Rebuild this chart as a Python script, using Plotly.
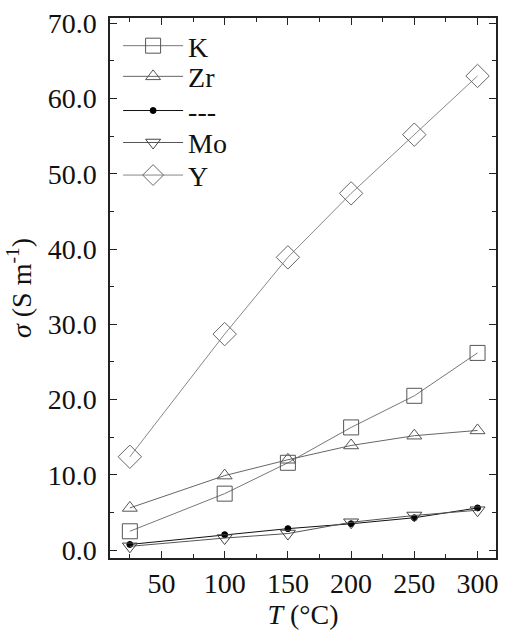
import plotly.graph_objects as go

T = [25, 100, 150, 200, 250, 300]
K = [2.5, 7.5, 11.6, 16.3, 20.5, 26.2]
Zr = [5.6, 9.9, 12.0, 13.9, 15.2, 15.9]
Dash = [0.75, 2.05, 2.85, 3.5, 4.3, 5.6]
Mo = [0.5, 1.6, 2.2, 3.7, 4.6, 5.3]
Y = [12.4, 28.7, 38.9, 47.4, 55.2, 63.0]

names = ["K", "Zr", "---", "Mo", "Y"]
series = [K, Zr, Dash, Mo, Y]
symbols = ["square-open", "triangle-up-open", "circle", "triangle-down-open", "diamond-open"]
sizes = [15, 13, 6, 13, 18]
mcolors = ["#555555", "#555555", "#000000", "#444444", "#666666"]
lcolors = ["#777777", "#666666", "#111111", "#555555", "#888888"]
legend_y = [0.9482, 0.8914, 0.8281, 0.7689, 0.7086]

FONT = "Liberation Serif"
FS = 28
fig = go.Figure()
legend_ids = ["legend", "legend2", "legend3", "legend4", "legend5"]
for i, (n, s) in enumerate(zip(names, series)):
    fig.add_trace(go.Scatter(
        x=T, y=s, name=n, mode="lines+markers",
        legend=legend_ids[i],
        line=dict(color=lcolors[i], width=1),
        marker=dict(symbol=symbols[i], size=sizes[i], color=mcolors[i],
                    line=dict(width=1, color=mcolors[i])),
    ))

layout_legends = {}
for i, lid in enumerate(legend_ids):
    layout_legends[lid] = dict(x=0.021, y=legend_y[i], xanchor="left", yanchor="middle",
                               bgcolor="rgba(0,0,0,0)", font=dict(family=FONT, size=FS),
                               itemwidth=60)

fig.update_layout(
    width=506, height=631,
    margin=dict(l=110, r=8, t=14, b=73),
    paper_bgcolor="white", plot_bgcolor="white",
    font=dict(family=FONT, size=FS, color="#111111"),
    showlegend=True,
    **layout_legends,
    xaxis=dict(range=[9.3, 314.6], tickvals=[50, 100, 150, 200, 250, 300],
               ticks="inside", ticklen=7, tickcolor="#222", mirror="allticks",
               showline=True, linecolor="#222", linewidth=1.5, showgrid=False,
               zeroline=False,
               minor=dict(tickvals=[25, 75, 125, 175, 225, 275], ticks="inside", ticklen=4, tickcolor="#222"),
               title=dict(text="<i>T</i> (°C)", standoff=4, font=dict(size=FS))),
    yaxis=dict(range=[-1.05, 70.7], tickvals=[0, 10, 20, 30, 40, 50, 60, 70],
               ticktext=["0.0", "10.0", "20.0", "30.0", "40.0", "50.0", "60.0", "70.0"],
               ticks="inside", ticklen=7, tickcolor="#222", mirror="allticks",
               showline=True, linecolor="#222", linewidth=1.5, showgrid=False,
               zeroline=False, ticklabelstandoff=6,
               minor=dict(tickvals=[5, 15, 25, 35, 45, 55, 65], ticks="inside", ticklen=4, tickcolor="#222"),
               title=dict(text="<i>σ</i> (S m<sup>-1</sup>)", standoff=8, font=dict(size=FS))),
)
fig.write_html("out.html")
